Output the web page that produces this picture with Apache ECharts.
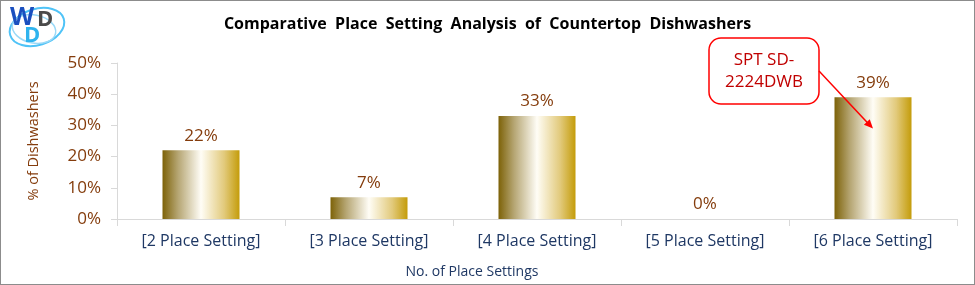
<!DOCTYPE html>
<html><head><meta charset="utf-8">
<script src="https://cdn.jsdelivr.net/npm/echarts@6/dist/echarts.min.js"></script>
<style>html,body{margin:0;padding:0;background:#fff}#c{width:975px;height:285px;box-sizing:border-box;border:1px solid #8c8c8c}</style>
</head><body><div id="c"></div>
<script>
var categories = ['[2 Place Setting]','[3 Place Setting]','[4 Place Setting]','[5 Place Setting]','[6 Place Setting]'];
var shares = [22, 7, 33, 0, 39];
var yTicks = [0, 10, 20, 30, 40, 50];
var titleText = 'Comparative  Place  Setting  Analysis  of  Countertop  Dishwashers';
var calloutText = 'SPT SD-\n2224DWB';

var FONT = '"Open Sans", "Noto Sans", sans-serif';
var chart = echarts.init(document.getElementById('c'));
var barGrad = new echarts.graphic.LinearGradient(0,0,1,0,[
  {offset:0,color:'#7d6208'},{offset:0.2,color:'#b5a572'},{offset:0.5,color:'#fffdf6'},{offset:0.8,color:'#e2ca7c'},{offset:1,color:'#c49c0a'}]);
var option = {
  animation:false,
  title:{text:titleText,left:'center',top:10,textStyle:{fontFamily:FONT,fontSize:16,fontWeight:'bold',color:'#000'}},
  grid:{left:116,right:17,top:62,bottom:65},
  xAxis:{type:'category',data:categories,
    axisLine:{lineStyle:{color:'#d9d9d9'}},
    axisTick:{show:true,length:7,lineStyle:{color:'#d9d9d9'}},
    axisLabel:{color:'#1f3864',fontFamily:FONT,fontSize:16,margin:14},
    name:'No. of Place Settings',nameLocation:'middle',nameGap:46,
    nameTextStyle:{color:'#1f3864',fontFamily:FONT,fontSize:14,padding:[0,130,0,0]}},
  yAxis:{type:'value',min:yTicks[0],max:yTicks[yTicks.length-1],interval:10,
    axisLine:{show:true,lineStyle:{color:'#d9d9d9'}},
    axisTick:{show:true,length:6,lineStyle:{color:'#d9d9d9'}},
    splitLine:{show:false},
    axisLabel:{color:'#843c0c',fontFamily:FONT,fontSize:17,margin:16,formatter:'{value}%'},
    name:'% of Dishwashers',nameLocation:'middle',nameGap:76,
    nameTextStyle:{color:'#843c0c',fontFamily:FONT,fontSize:14.5}},
  series:[{type:'bar',data:shares,barWidth:77,
    itemStyle:{color:barGrad},
    label:{show:true,position:'top',distance:6,formatter:'{c}%',color:'#843c0c',fontFamily:FONT,fontSize:17}}]
};
chart.setOption(option);

var tip = chart.convertToPixel({xAxisIndex:0,yAxisIndex:0},[4, 29]);
var box = {x:708,y:37,w:110,h:66};
chart.setOption({graphic:[
  {type:'rect',shape:{x:box.x,y:box.y,width:box.w,height:box.h,r:12},style:{fill:'#fff',stroke:'#ff0000',lineWidth:1.5},z:10},
  {type:'text',x:box.x+box.w/2,y:box.y+box.h/2,style:{text:calloutText,fill:'#c00000',font:'17px '+FONT,align:'center',verticalAlign:'middle',lineHeight:22},z:11},
  {type:'line',shape:{x1:box.x+box.w,y1:box.y+33,x2:tip[0]-2,y2:tip[1]-2},style:{stroke:'#ff0000',lineWidth:1.5},z:10},
  {type:'polygon',shape:{points:(function(){var x1=box.x+box.w,y1=box.y+33,x2=tip[0],y2=tip[1];var a=Math.atan2(y2-y1,x2-x1),L=9,W=4;
     return [[x2,y2],[x2-L*Math.cos(a)+W*Math.sin(a),y2-L*Math.sin(a)-W*Math.cos(a)],[x2-L*Math.cos(a)-W*Math.sin(a),y2-L*Math.sin(a)+W*Math.cos(a)]];})()},
   style:{fill:'#ff0000'},z:10},
  // logo
  {type:'ellipse',shape:{cx:36,cy:26,rx:28,ry:18},rotation:0.3,originX:36,originY:26,style:{fill:'none',stroke:'#4fc3f7',lineWidth:2},z:5},
  {type:'ellipse',shape:{cx:33,cy:28,rx:22,ry:14},rotation:-0.2,originX:33,originY:28,style:{fill:'none',stroke:'#9ad9f7',lineWidth:1.5},z:5},
  {type:'text',x:9,y:4,style:{text:'W',fill:'#1a4fbf',font:'bold 25px '+FONT},z:6},
  {type:'text',x:36,y:8,style:{text:'D',fill:'#4a4a4a',font:'bold 22px '+FONT},z:6},
  {type:'text',x:23,y:24,style:{text:'D',fill:'#2fb3ee',font:'bold 22px '+FONT},z:6}
]});
</script></body></html>
